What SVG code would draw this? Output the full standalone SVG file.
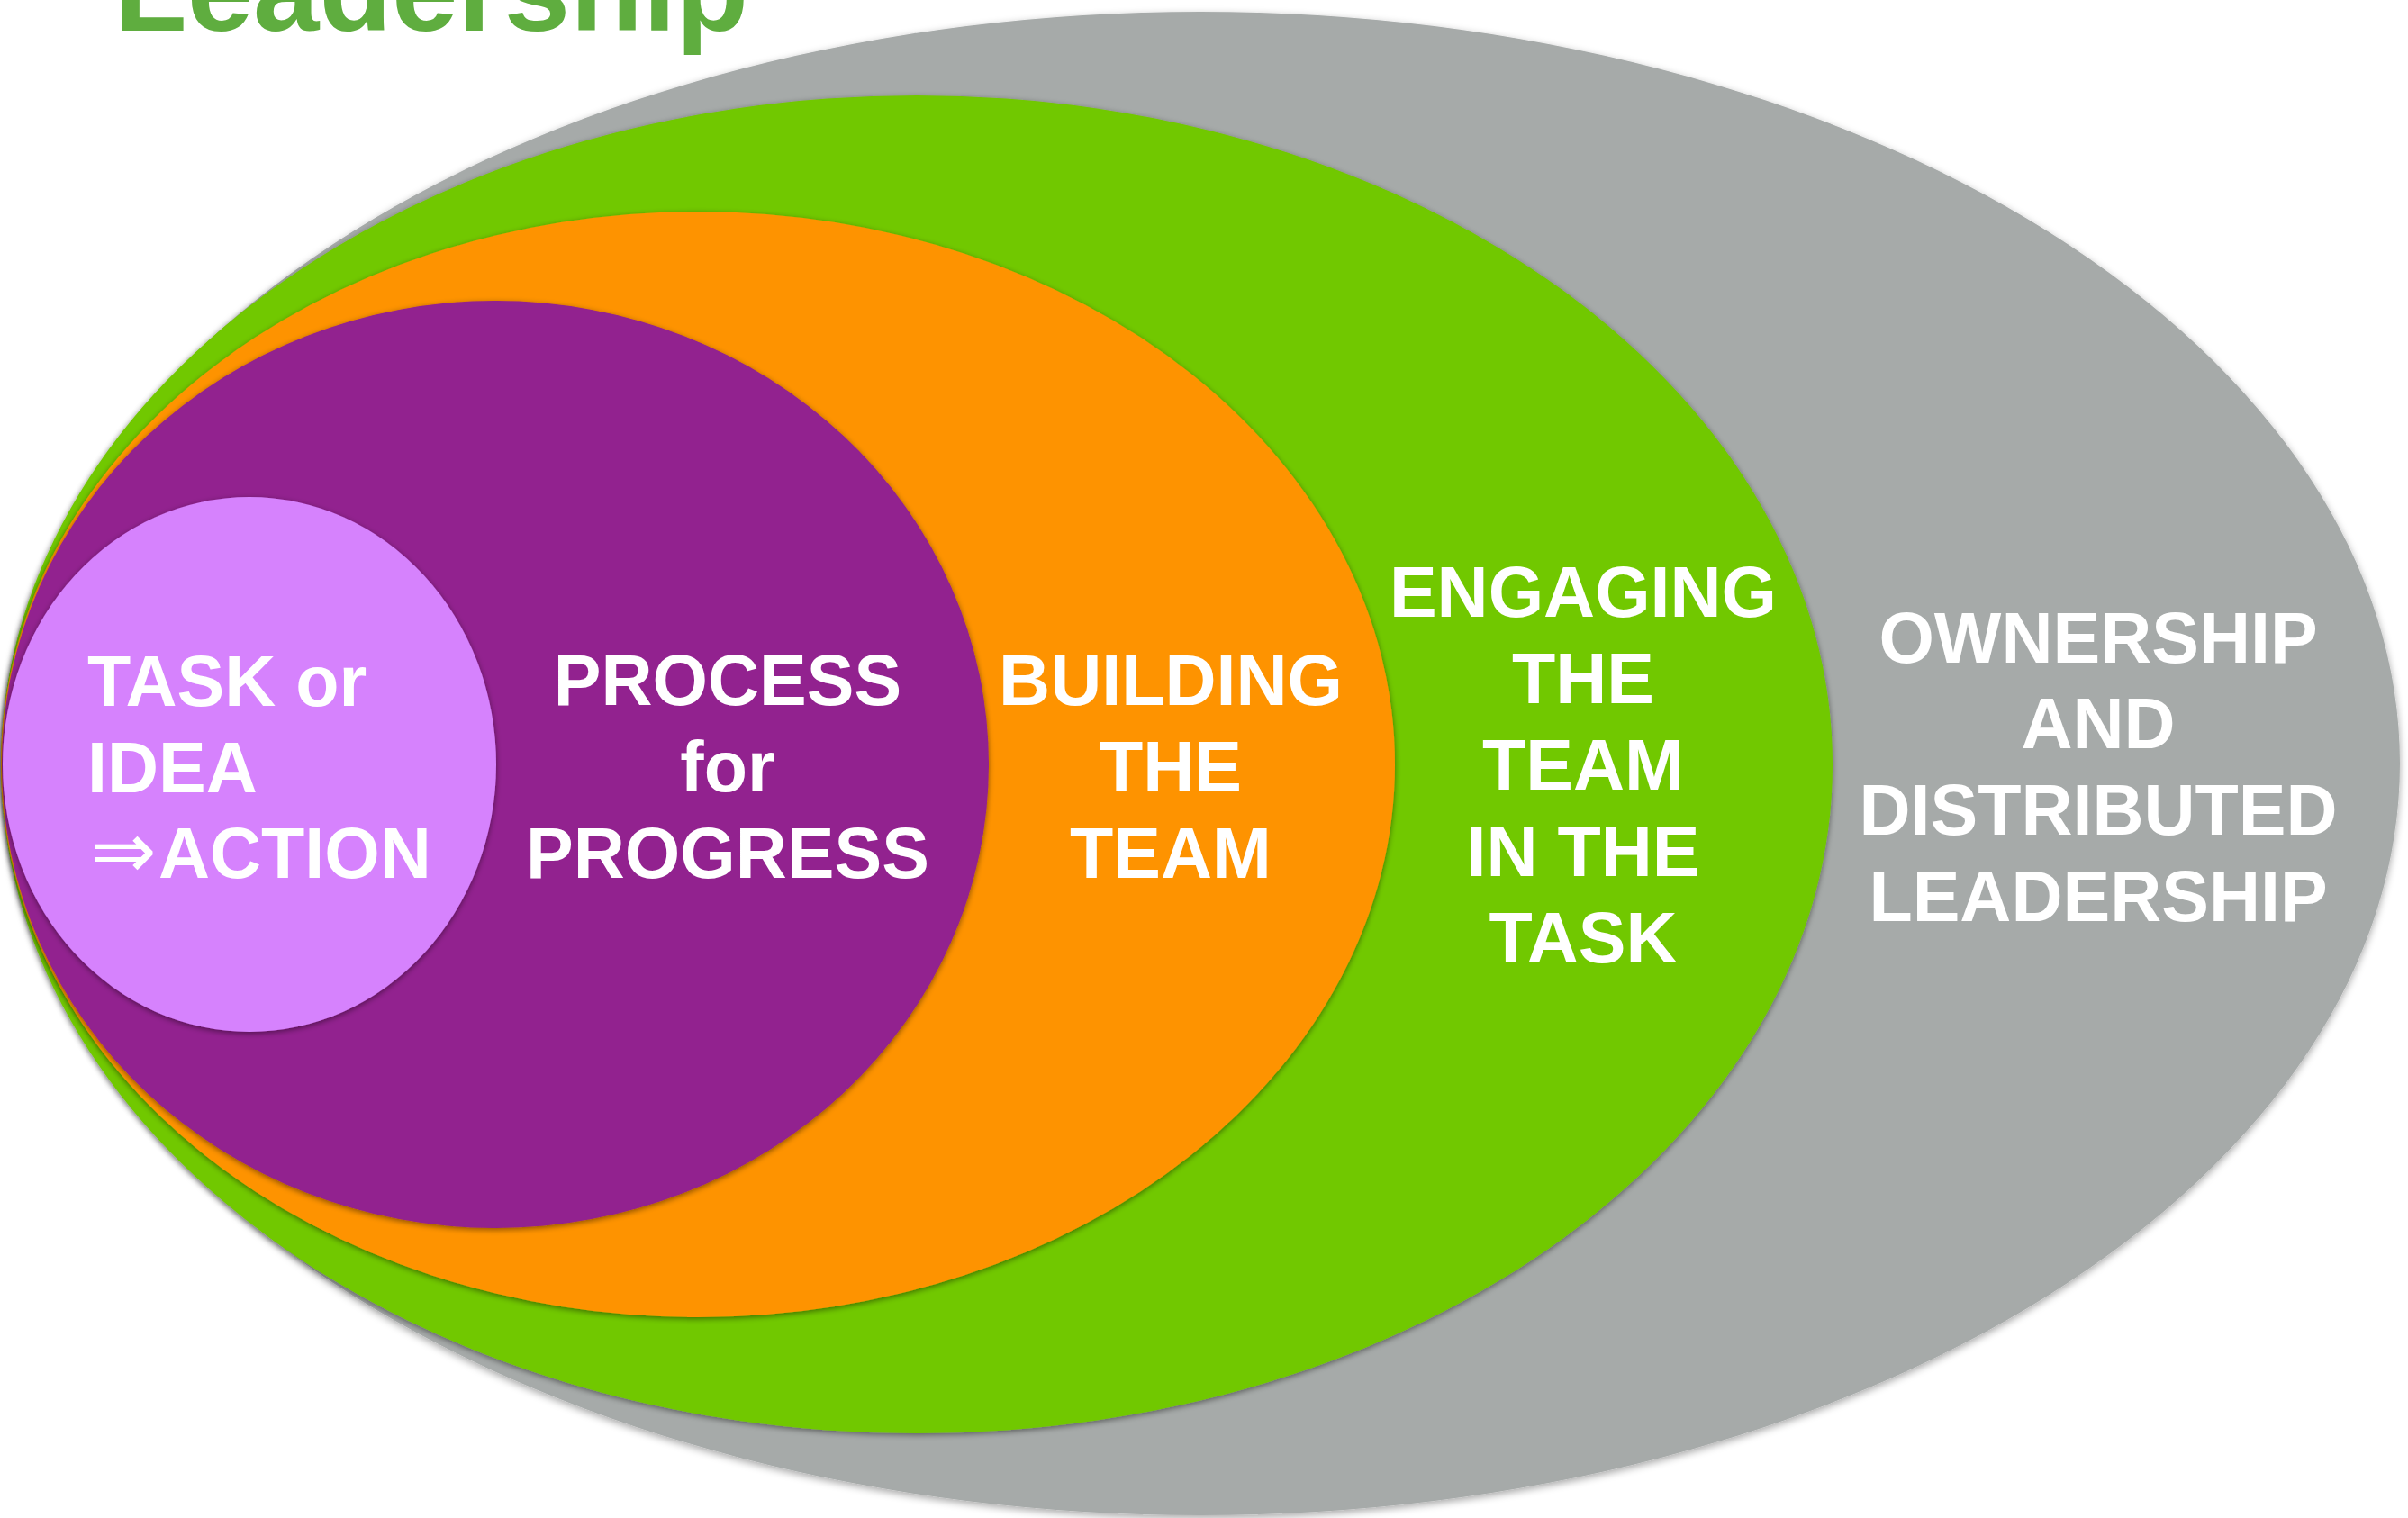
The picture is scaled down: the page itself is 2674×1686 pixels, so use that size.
<svg xmlns="http://www.w3.org/2000/svg" width="2674" height="1686" viewBox="0 0 2674 1686">
  <defs>
    <filter id="shadow" x="-5%" y="-5%" width="110%" height="110%">
      <feDropShadow dx="0" dy="2" stdDeviation="3" flood-color="#000" flood-opacity="0.45"/>
    </filter>
    <filter id="shadowSoft" x="-5%" y="-5%" width="110%" height="110%">
      <feDropShadow dx="0" dy="3" stdDeviation="4" flood-color="#000" flood-opacity="0.35"/>
    </filter>
  </defs>
  <style>
    .lbl { font-family: "Liberation Sans", Arial, Helvetica, sans-serif; font-weight: bold; font-size: 79px; fill: #ffffff; }
    .mid { text-anchor: middle; }
    .arrow { font-family: "DejaVu Sans", sans-serif; font-weight: normal; font-size: 88px; }
    .title { font-family: "Liberation Sans", Arial, Helvetica, sans-serif; font-weight: bold; font-size: 132px; fill: #5fad3f; }
  </style>
  <rect width="2674" height="1686" fill="#ffffff"/>

  <text class="title" x="127" y="34">Leadership</text>

  <g id="ownership">
    <ellipse cx="1333" cy="848" rx="1332" ry="835" fill="#a6aaa9" filter="url(#shadowSoft)"/>
    <text class="lbl mid" x="2330" y="736">OWNERSHIP</text>
    <text class="lbl mid" x="2330" y="831">AND</text>
    <text class="lbl mid" x="2330" y="927">DISTRIBUTED</text>
    <text class="lbl mid" x="2330" y="1023">LEADERSHIP</text>
  </g>

  <g id="engaging">
    <ellipse cx="1018" cy="849" rx="1017" ry="743" fill="#71c800" filter="url(#shadow)"/>
    <text class="lbl mid" x="1758" y="685">ENGAGING</text>
    <text class="lbl mid" x="1758" y="781">THE</text>
    <text class="lbl mid" x="1758" y="877">TEAM</text>
    <text class="lbl mid" x="1758" y="973">IN THE</text>
    <text class="lbl mid" x="1758" y="1069">TASK</text>
  </g>

  <g id="building">
    <ellipse cx="775" cy="849" rx="774" ry="614" fill="#fe9300" filter="url(#shadow)"/>
    <text class="lbl mid" x="1300" y="783">BUILDING</text>
    <text class="lbl mid" x="1300" y="879">THE</text>
    <text class="lbl mid" x="1300" y="975">TEAM</text>
  </g>

  <g id="process">
    <ellipse cx="550" cy="849" rx="548" ry="515" fill="#92208f" filter="url(#shadow)"/>
    <text class="lbl mid" x="808" y="783">PROCESS</text>
    <text class="lbl mid" x="808" y="879">for</text>
    <text class="lbl mid" x="808" y="975">PROGRESS</text>
  </g>

  <g id="task">
    <ellipse cx="277" cy="849" rx="274" ry="297" fill="#d682fd" filter="url(#shadow)"/>
    <text class="lbl" x="97" y="784">TASK or</text>
    <text class="lbl" x="97" y="880">IDEA</text>
    <text class="lbl" x="100" y="975"><tspan class="arrow">⇒</tspan><tspan x="176">ACTION</tspan></text>
  </g>

  <g id="connectors"/>
</svg>
